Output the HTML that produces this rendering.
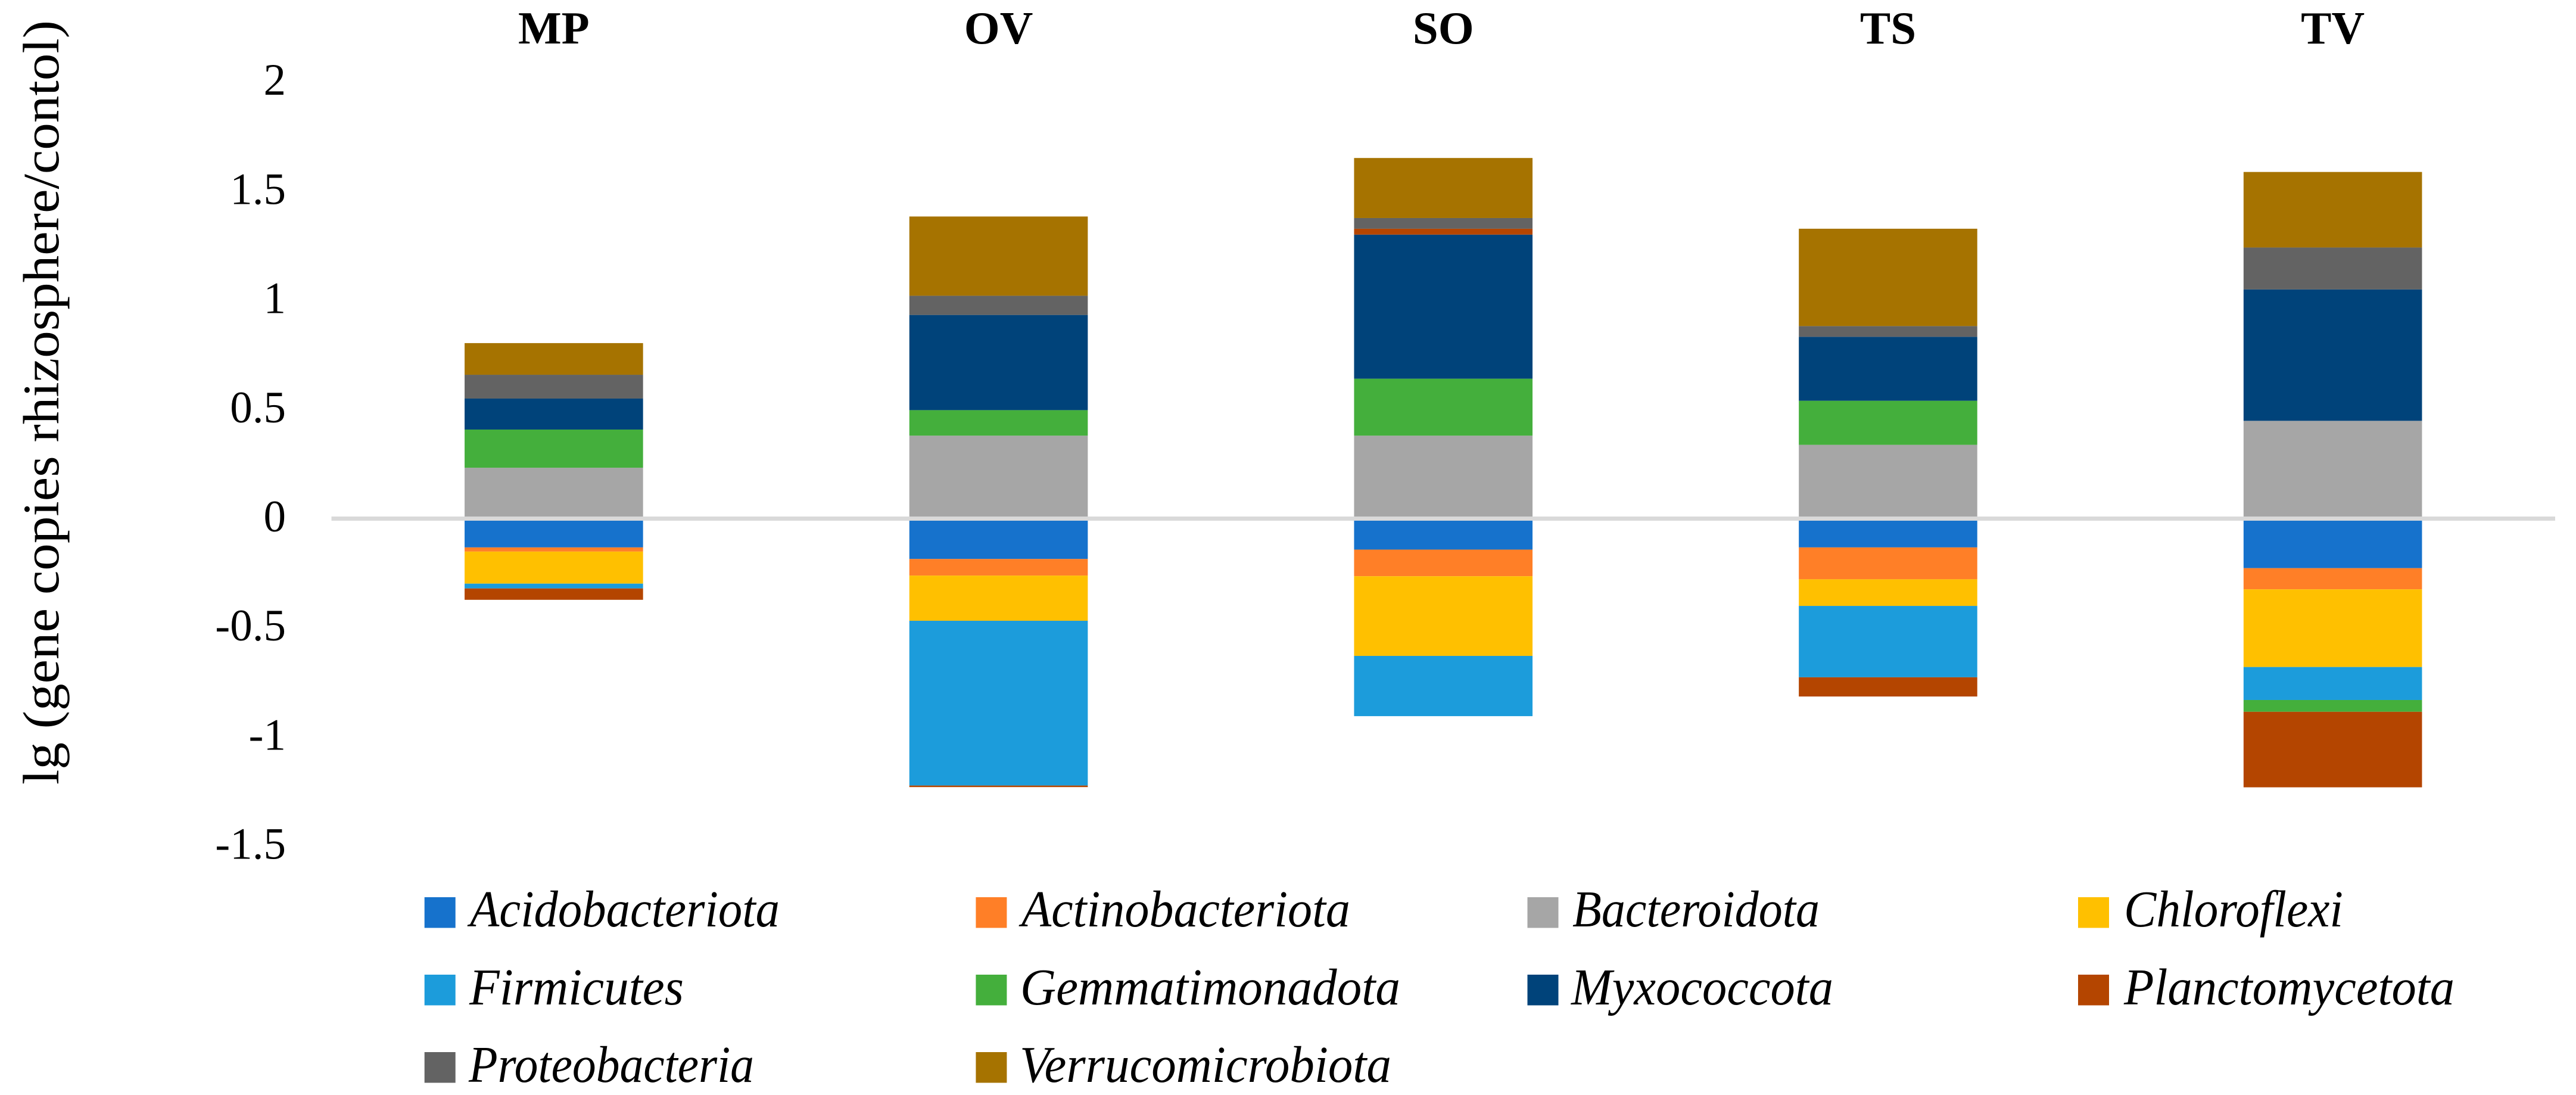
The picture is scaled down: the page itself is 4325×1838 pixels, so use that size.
<!DOCTYPE html>
<html lang="en">
<head>
<meta charset="utf-8">
<title>Stacked bar chart of gene copies by phylum</title>
<style>
html,body{margin:0;padding:0;background:#fff;}
svg{display:block;}
text{font-family:"Liberation Serif",serif;fill:#000;}
.leg{font-size:87px;font-style:italic;}
</style>
</head>
<body>
<svg id="chart" xmlns="http://www.w3.org/2000/svg" width="4325" height="1838" viewBox="0 0 4325 1838">
<rect x="0" y="0" width="4325" height="1838" fill="#ffffff"/>
<text transform="translate(98,1317) rotate(-90)" font-size="86" textLength="1283" lengthAdjust="spacingAndGlyphs">lg (gene copies rhizosphere/contol)</text>
<g id="bars"></g>
<g id="axis"></g>
<g id="legend">
<g><rect x="712.7" y="1506" width="52" height="51.5" fill="#1672CC"/><text class="leg" x="789" y="1555" textLength="520" lengthAdjust="spacingAndGlyphs">Acidobacteriota</text></g>
<g><rect x="1638.4" y="1506" width="52" height="51.5" fill="#FF7F27"/><text class="leg" x="1715" y="1555" textLength="552" lengthAdjust="spacingAndGlyphs">Actinobacteriota</text></g>
<g><rect x="2564.5" y="1506" width="52" height="51.5" fill="#A6A6A6"/><text class="leg" x="2640" y="1555" textLength="415" lengthAdjust="spacingAndGlyphs">Bacteroidota</text></g>
<g><rect x="3489" y="1506" width="52" height="51.5" fill="#FFC000"/><text class="leg" x="3566" y="1555" textLength="368" lengthAdjust="spacingAndGlyphs">Chloroflexi</text></g>
<g><rect x="712.7" y="1636" width="52" height="51.5" fill="#1C9CDB"/><text class="leg" x="788" y="1686" textLength="360" lengthAdjust="spacingAndGlyphs">Firmicutes</text></g>
<g><rect x="1638.4" y="1636" width="52" height="51.5" fill="#44AF3C"/><text class="leg" x="1713" y="1686" textLength="638" lengthAdjust="spacingAndGlyphs">Gemmatimonadota</text></g>
<g><rect x="2564.5" y="1636" width="52" height="51.5" fill="#00437A"/><text class="leg" x="2638" y="1686" textLength="440" lengthAdjust="spacingAndGlyphs">Myxococcota</text></g>
<g><rect x="3489" y="1636" width="52" height="51.5" fill="#B44500"/><text class="leg" x="3566" y="1686" textLength="555" lengthAdjust="spacingAndGlyphs">Planctomycetota</text></g>
<g><rect x="712.7" y="1766" width="52" height="51.5" fill="#636363"/><text class="leg" x="787" y="1816" textLength="479" lengthAdjust="spacingAndGlyphs">Proteobacteria</text></g>
<g><rect x="1638.4" y="1766" width="52" height="51.5" fill="#A67300"/><text class="leg" x="1712" y="1816" textLength="624" lengthAdjust="spacingAndGlyphs">Verrucomicrobiota</text></g>
</g>
</svg>
<script>
const categories = ["MP", "OV", "SO", "TS", "TV"];
const tickLabels = [2, 1.5, 1, 0.5, 0, -0.5, -1, -1.5];
const seriesNames = ["Acidobacteriota", "Actinobacteriota", "Bacteroidota", "Chloroflexi", "Firmicutes", "Gemmatimonadota", "Myxococcota", "Planctomycetota", "Proteobacteria", "Verrucomicrobiota"];
const acidobacteriota = [-0.132, -0.185, -0.142, -0.132, -0.227];
const actinobacteriota = [-0.019, -0.076, -0.122, -0.146, -0.097];
const bacteroidota = [0.233, 0.380, 0.380, 0.338, 0.448];
const chloroflexi = [-0.147, -0.207, -0.365, -0.122, -0.356];
const firmicutes = [-0.022, -0.755, -0.276, -0.327, -0.151];
const gemmatimonadota = [0.175, 0.117, 0.261, 0.202, -0.054];
const myxococcota = [0.142, 0.436, 0.660, 0.293, 0.602];
const planctomycetota = [-0.052, -0.007, 0.027, -0.088, -0.346];
const proteobacteria = [0.109, 0.088, 0.049, 0.049, 0.192];
const verrucomicrobiota = [0.145, 0.363, 0.275, 0.446, 0.346];

const seriesValues = [acidobacteriota, actinobacteriota, bacteroidota, chloroflexi, firmicutes, gemmatimonadota, myxococcota, planctomycetota, proteobacteria, verrucomicrobiota];
const seriesColors = ["#1672CC", "#FF7F27", "#A6A6A6", "#FFC000", "#1C9CDB", "#44AF3C", "#00437A", "#B44500", "#636363", "#A67300"];

const NS = "http://www.w3.org/2000/svg";
const plotLeft = 556.5, plotRight = 4290;
const zeroY = 870.5, unitPx = 366.4;
const barWidth = 299.6;
const yScale = function (v) { return zeroY - v * unitPx; };
const bandWidth = (plotRight - plotLeft) / categories.length;
const xCenter = function (i) { return plotLeft + bandWidth * (i + 0.5); };

const barsGroup = document.getElementById("bars");
const axisGroup = document.getElementById("axis");

categories.forEach(function (cat, c) {
  let posBase = 0, negBase = 0;
  seriesValues.forEach(function (vals, s) {
    const v = vals[c];
    const start = v >= 0 ? posBase : negBase;
    const end = start + v;
    if (v >= 0) { posBase = end; } else { negBase = end; }
    const top = yScale(Math.max(start, end));
    const bottom = yScale(Math.min(start, end));
    const r = document.createElementNS(NS, "rect");
    r.setAttribute("x", xCenter(c) - barWidth / 2);
    r.setAttribute("y", top);
    r.setAttribute("width", barWidth);
    r.setAttribute("height", bottom - top);
    r.setAttribute("fill", seriesColors[s]);
    
    
    barsGroup.appendChild(r);
  });
  const label = document.createElementNS(NS, "text");
  label.setAttribute("x", xCenter(c));
  label.setAttribute("y", 73);
  label.setAttribute("text-anchor", "middle");
  label.setAttribute("font-size", "77");
  label.setAttribute("font-weight", "bold");
  label.textContent = cat;
  
  
  axisGroup.appendChild(label);
});

tickLabels.forEach(function (t) {
  const tick = document.createElementNS(NS, "text");
  tick.setAttribute("x", 480);
  tick.setAttribute("y", yScale(t) + 21.5);
  tick.setAttribute("text-anchor", "end");
  tick.setAttribute("font-size", "75");
  tick.textContent = String(t);
  
  
  axisGroup.appendChild(tick);
});

const zeroLine = document.createElementNS(NS, "rect");
zeroLine.setAttribute("x", plotLeft);
zeroLine.setAttribute("y", yScale(0) - 3.5);
zeroLine.setAttribute("width", plotRight - plotLeft);
zeroLine.setAttribute("height", 7);
zeroLine.setAttribute("fill", "#D9D9D9");


axisGroup.appendChild(zeroLine);
</script>
</body>
</html>
